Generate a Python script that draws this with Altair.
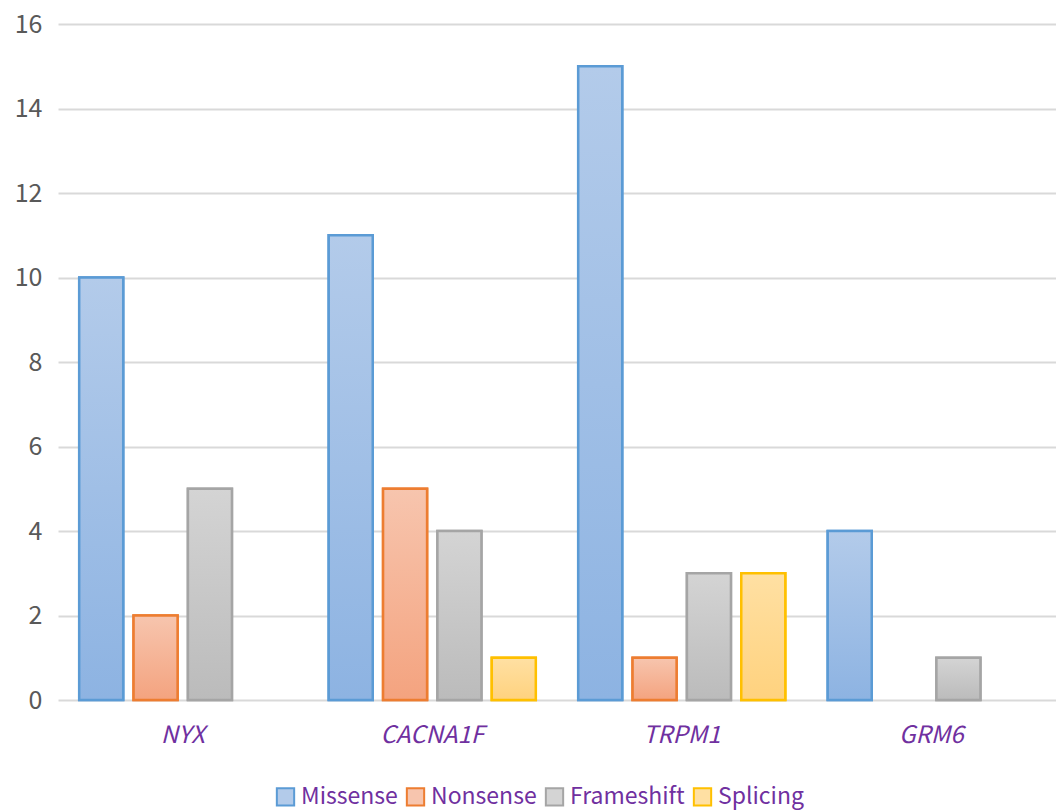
import altair as alt
import pandas as pd

genes = ["NYX", "CACNA1F", "TRPM1", "GRM6"]
mutation_types = ["Missense", "Nonsense", "Frameshift", "Splicing"]
missense = [10, 11, 15, 4]
nonsense = [2, 5, 1, 0]
frameshift = [5, 4, 3, 1]
splicing = [0, 1, 3, 0]
y_ticks = [0, 2, 4, 6, 8, 10, 12, 14, 16]

# Colour scheme per mutation type: gradient top, gradient bottom, outline
grad_top = ["#b3cbea", "#f7c5ae", "#d4d4d4", "#ffe0a3"]
grad_bottom = ["#8db3e2", "#f4a37f", "#bbbbbb", "#ffd27e"]
outline = ["#5b9bd5", "#ed7d31", "#a5a5a5", "#ffc000"]

rows = []
for series, vals in zip(mutation_types, [missense, nonsense, frameshift, splicing]):
    for gene, v in zip(genes, vals):
        if v > 0:
            rows.append({"gene": gene, "type": series, "count": v})
df = pd.DataFrame(rows)

FONT = "Noto Sans CJK KR"
PURPLE = "#7030a0"

x_enc = alt.X(
    "gene:N",
    sort=genes,
    scale=alt.Scale(domain=genes, paddingInner=0.17, paddingOuter=0.085),
    axis=alt.Axis(
        title=None, domain=False, ticks=False, grid=False, labelAngle=0,
        labelFont=FONT, labelFontSize=24, labelFontStyle="italic",
        labelColor=PURPLE, labelPadding=23,
    ),
)
y_enc = alt.Y(
    "count:Q",
    scale=alt.Scale(domain=[0, 16], nice=False),
    axis=alt.Axis(
        title=None, values=y_ticks, domain=False, ticks=False,
        labelFont=FONT, labelFontSize=25, labelColor="#595959",
        labelPadding=16, gridColor="#d9d9d9", gridWidth=2,
    ),
)
xo_enc = alt.XOffset(
    "type:N",
    sort=mutation_types,
    scale=alt.Scale(domain=mutation_types, paddingInner=0.19, paddingOuter=0.0),
)

legend_opts = dict(
    title=None, orient="none", direction="horizontal",
    legendX=216, legendY=761, symbolType="square", symbolSize=300,
    symbolStrokeWidth=2, labelFont=FONT, labelFontSize=23,
    labelColor=PURPLE, columnPadding=4, labelOffset=4,
)

# Base bars carry the legend (fill + outline merged into one legend)
base = alt.Chart(df).mark_bar(strokeWidth=2.5).encode(
    x=x_enc,
    xOffset=xo_enc,
    y=y_enc,
    fill=alt.Fill(
        "type:N", sort=mutation_types,
        scale=alt.Scale(domain=mutation_types, range=grad_top),
        legend=alt.Legend(**legend_opts),
    ),
    stroke=alt.Stroke(
        "type:N", sort=mutation_types,
        scale=alt.Scale(domain=mutation_types, range=outline),
        legend=alt.Legend(**legend_opts),
    ),
)

# Gradient-filled bars drawn over the base bars, one layer per type
grad_layers = []
for series, top, bottom, line in zip(mutation_types, grad_top, grad_bottom, outline):
    grad = alt.Gradient(
        gradient="linear",
        stops=[alt.GradientStop(color=top, offset=0),
               alt.GradientStop(color=bottom, offset=1)],
        x1=0, x2=0, y1=0, y2=1,
    )
    layer = (
        alt.Chart(df)
        .transform_filter(alt.datum.type == series)
        .mark_bar(fill=grad, stroke=line, strokeWidth=2.5)
        .encode(x=x_enc, xOffset=xo_enc, y=y_enc)
    )
    grad_layers.append(layer)

chart = (
    alt.layer(base, *grad_layers)
    .properties(
        width=998, height=676, background="white",
        padding={"left": 58, "top": 24, "right": 0, "bottom": 112},
        autosize="none",
    )
    .configure_view(stroke="transparent", strokeWidth=0)
    .configure_axis(domain=False)
)

chart.save("out.html", embed_options={"renderer": "svg", "actions": False})
